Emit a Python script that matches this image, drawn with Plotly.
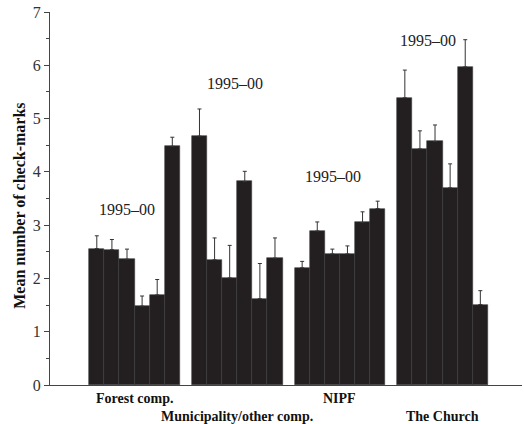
import plotly.graph_objects as go

groups = ["Forest comp.", "Municipality/other comp.", "NIPF", "The Church"]
period_label = "1995\u201300"
y_title = "Mean number of check-marks"

forest_means = [2.56, 2.54, 2.36, 1.48, 1.69, 4.48]
forest_err_top = [2.80, 2.73, 2.55, 1.67, 1.98, 4.65]
munic_means = [4.67, 2.35, 2.01, 3.82, 1.62, 2.38]
munic_err_top = [5.18, 2.76, 2.62, 4.01, 2.28, 2.76]
nipf_means = [2.20, 2.89, 2.46, 2.46, 3.05, 3.31]
nipf_err_top = [2.32, 3.06, 2.55, 2.61, 3.25, 3.45]
church_means = [5.39, 4.43, 4.57, 3.70, 5.97, 1.51]
church_err_top = [5.91, 4.77, 4.88, 4.15, 6.48, 1.77]

y_ticks = [0, 1, 2, 3, 4, 5, 6, 7]

all_means = [forest_means, munic_means, nipf_means, church_means]
all_tops = [forest_err_top, munic_err_top, nipf_err_top, church_err_top]

group_pitch = 6.8
serif = "Liberation Serif, Times New Roman, serif"

fig = go.Figure()
xs, ys, errs = [], [], []
for g, (m, t) in enumerate(zip(all_means, all_tops)):
    for i, (v, top) in enumerate(zip(m, t)):
        xs.append(g * group_pitch + i)
        ys.append(v)
        errs.append(top - v)

fig.add_trace(go.Bar(
    x=xs, y=ys, width=1.0,
    marker=dict(color="#231f20", line=dict(width=0.6, color="#3a3a3a")),
    error_y=dict(type="data", symmetric=False, array=errs,
                 arrayminus=[0] * len(errs), color="#333333",
                 thickness=1, width=2),
    showlegend=False,
))

# "1995–00" labels (offsets relative to group centre, in data units)
label_dx = [-0.5, -0.15, -0.45, -0.95]
label_y = [3.30, 5.66, 3.91, 6.46]
for g in range(4):
    fig.add_annotation(x=g * group_pitch + 2.5 + label_dx[g], y=label_y[g],
                       text=period_label, showarrow=False,
                       font=dict(family=serif, size=16, color="#222"))

# category labels, alternating rows (paper y below the axis)
cat_y = [-0.0375, -0.085, -0.0375, -0.085]
for g, name in enumerate(groups):
    fig.add_annotation(x=g * group_pitch + 2.5, xref="x", y=cat_y[g], yref="paper",
                       text="<b>%s</b>" % name,
                       showarrow=False, yanchor="middle",
                       font=dict(family=serif, size=14, color="#111"))

# y-axis title
fig.add_annotation(x=-0.064, xref="paper", y=0.48, yref="paper",
                   text="<b>%s</b>" % y_title, textangle=-90, showarrow=False,
                   xanchor="center", yanchor="middle",
                   font=dict(family=serif, size=16, color="#111"))

fig.update_layout(
    width=524, height=424,
    margin=dict(l=50, r=2, t=12, b=39, autoexpand=False),
    paper_bgcolor="white", plot_bgcolor="white",
    bargap=0,
    font=dict(family=serif, color="#222"),
)
fig.update_xaxes(range=[-3.1, 28.16], showticklabels=False, ticks="",
                 showgrid=False, zeroline=False, showline=True,
                 linecolor="#444", linewidth=1)
fig.update_yaxes(range=[0, 7], tickvals=y_ticks, ticks="outside", ticklen=5,
                 tickcolor="#444", showgrid=False, zeroline=False,
                 showline=True, linecolor="#444", linewidth=1,
                 tickfont=dict(family=serif, size=16, color="#333"),
                 minor=dict(dtick=0.5, ticks="outside", ticklen=3, tickcolor="#444"))

fig.write_html("out.html", config={"displayModeBar": False},
               post_script="document.body.style.margin='0';document.body.style.overflow='hidden';")
